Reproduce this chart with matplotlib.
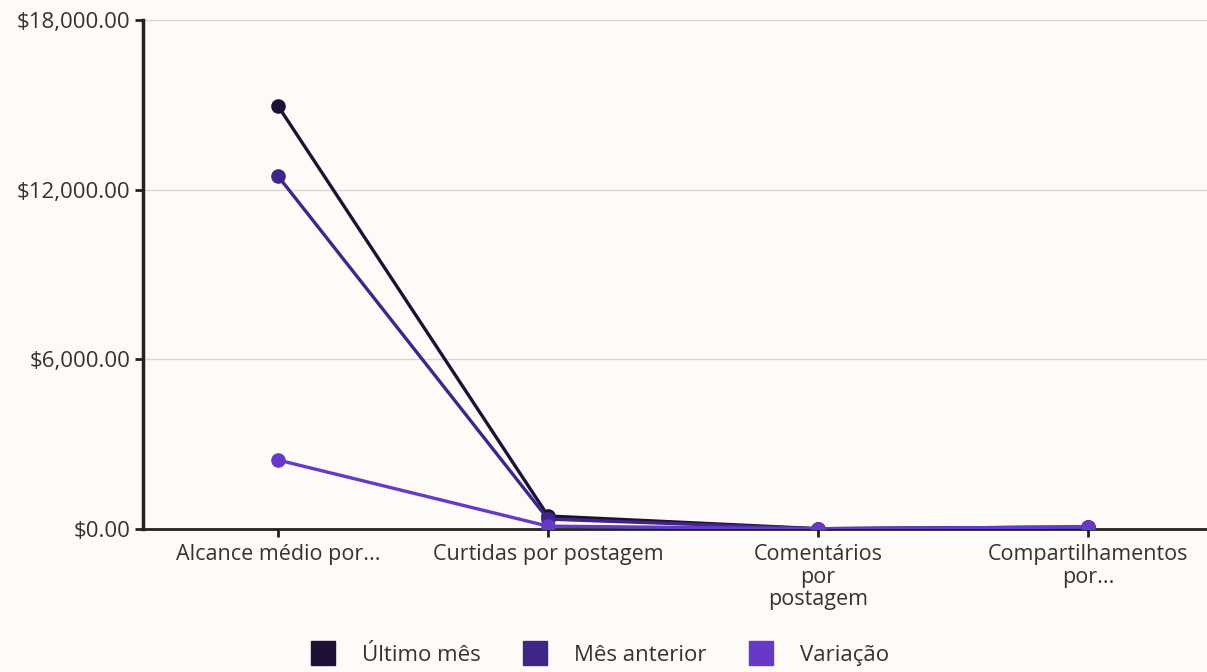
import matplotlib.pyplot as plt
from matplotlib.lines import Line2D
from matplotlib.ticker import FuncFormatter

categories = ["Alcance médio por...", "Curtidas por postagem",
              "Comentários\npor\npostagem", "Compartilhamentos\npor..."]
ultimo_mes = [14960, 460, 10, 70]
mes_anterior = [12480, 350, 10, 70]
variacao = [2440, 100, 10, 70]

series = [("Último mês", ultimo_mes, "#1e1037"),
          ("Mês anterior", mes_anterior, "#3e2587"),
          ("Variação", variacao, "#6639c9")]

plt.rcParams["font.family"] = ["Open Sans", "DejaVu Sans"]
bg = "#fdfaf7"

fig = plt.figure(figsize=(12.07, 6.72), dpi=100, facecolor=bg)
ax = fig.add_axes([0.1185, 0.2128, 0.8815, 0.7574], facecolor=bg)

x = list(range(len(categories)))
for name, vals, col in series:
    ax.plot(x, vals, color=col, lw=2.4, marker="o", ms=9.5, label=name, zorder=3)

ax.set_ylim(0, 18000)
ax.set_yticks([0, 6000, 12000, 18000])
ax.yaxis.set_major_formatter(FuncFormatter(lambda v, p: f"${v:,.2f}"))
ax.set_xlim(-0.5, 3.44)
ax.set_xticks(x)
ax.set_xticklabels(categories, fontsize=15.5, color="#333333", linespacing=1.1)
ax.tick_params(axis="y", labelsize=16, labelcolor="#333333", length=6, width=2, color="#222222", pad=3)
ax.tick_params(axis="x", length=6, width=2, color="#222222", pad=5)
ax.grid(axis="y", color="#d8d5d2", lw=1)
ax.set_axisbelow(True)
for s in ["top", "right"]:
    ax.spines[s].set_visible(False)
ax.spines["left"].set_linewidth(2.5)
ax.spines["left"].set_color("#222222")
ax.spines["bottom"].set_linewidth(2)
ax.spines["bottom"].set_color("#222222")

handles = [Line2D([], [], ls="none", marker="s", ms=17, mfc=c, mec=c) for _, _, c in series]
fig.legend(handles, [n for n, _, _ in series], loc="center", bbox_to_anchor=(0.493, 0.025),
           ncol=3, frameon=False, fontsize=16, handletextpad=0.75, columnspacing=1.45,
           labelcolor="#333333")

plt.savefig("out.png", dpi=100, facecolor=bg)
